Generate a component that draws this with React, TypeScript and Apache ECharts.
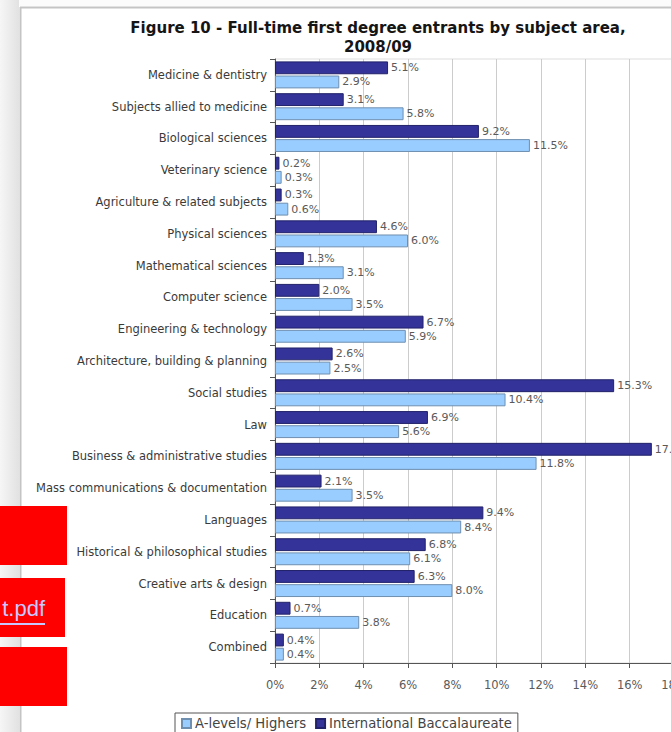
import React, { useEffect, useRef } from "react";
import * as echarts from "echarts";

const categories = [
  "Medicine & dentistry",
  "Subjects allied to medicine",
  "Biological sciences",
  "Veterinary science",
  "Agriculture & related subjects",
  "Physical sciences",
  "Mathematical sciences",
  "Computer science",
  "Engineering & technology",
  "Architecture, building & planning",
  "Social studies",
  "Law",
  "Business & administrative studies",
  "Mass communications & documentation",
  "Languages",
  "Historical & philosophical studies",
  "Creative arts & design",
  "Education",
  "Combined",
];

const ibValues = [5.1, 3.1, 9.2, 0.2, 0.3, 4.6, 1.3, 2.0, 6.7, 2.6, 15.3, 6.9, 17.0, 2.1, 9.4, 6.8, 6.3, 0.7, 0.4];
const aLevelValues = [2.9, 5.8, 11.5, 0.3, 0.6, 6.0, 3.1, 3.5, 5.9, 2.5, 10.4, 5.6, 11.8, 3.5, 8.4, 6.1, 8.0, 3.8, 0.4];

const seriesNames = ["A-levels/ Highers", "International Baccalaureate"];
const xTicks = { min: 0, max: 18, interval: 2 };
const titleText = "Figure 10 - Full-time first degree entrants by subject area,\n2008/09";

const FONT = "DejaVu Sans";

export default function App() {
  const ref = useRef<HTMLDivElement>(null);
  useEffect(() => {
    if (!ref.current) return;
    const chart = echarts.init(ref.current, undefined, { renderer: "svg" });
    const labelCfg = {
      show: true,
      position: "right" as const,
      distance: 3,
      color: "#5a5a5a",
      fontFamily: FONT,
      fontSize: 11,
      formatter: (p: any) => Number(p.value).toFixed(1) + "%",
    };
    chart.setOption({
      animation: false,
      backgroundColor: "#ffffff",
      title: {
        text: titleText,
        left: 373,
        top: 13.5,
        textAlign: "center",
        textStyle: {
          fontFamily: FONT,
          fontSize: 15,
          fontWeight: "bold",
          lineHeight: 19,
          color: "#151515",
        },
      },
      grid: {
        left: 275,
        top: 59,
        right: -3,
        bottom: 69,
        outerBoundsMode: "none",
        containLabel: false,
        show: true,
        borderColor: "#dddddd",
        borderWidth: 1,
        backgroundColor: "transparent",
      },
      legend: {
        data: seriesNames,
        left: 175,
        top: 713,
        padding: [4, 6, 4, 6],
        itemWidth: 9,
        itemHeight: 9,
        itemGap: 9,
        icon: "rect",
        borderColor: "#555",
        borderWidth: 1,
        backgroundColor: "#fff",
        textStyle: { fontFamily: FONT, fontSize: 13.2, color: "#444", padding: [0, 0, 0, -1] },
      },
      xAxis: {
        type: "value",
        min: xTicks.min,
        max: xTicks.max,
        interval: xTicks.interval,
        axisLine: { show: true, lineStyle: { color: "#555", width: 1 } },
        axisTick: { show: true, length: 5, lineStyle: { color: "#555" } },
        axisLabel: {
          formatter: "{value}%",
          fontFamily: FONT,
          fontSize: 11.5,
          color: "#5a5a5a",
          margin: 16,
        },
        splitLine: { show: true, lineStyle: { color: "#cccccc", width: 1 } },
      },
      yAxis: {
        type: "category",
        inverse: true,
        data: categories,
        axisLine: { show: true, lineStyle: { color: "#555", width: 1 } },
        axisTick: { show: true, length: 5, alignWithLabel: false, lineStyle: { color: "#555" } },
        axisLabel: {
          fontFamily: FONT,
          fontSize: 11.5,
          color: "#3a3a3a",
          margin: 8,
        },
      },
      series: [
        {
          name: seriesNames[1],
          type: "bar",
          data: ibValues,
          barGap: "10%",
          barCategoryGap: "15%",
          itemStyle: { color: "#333399", borderColor: "#22226a", borderWidth: 1 },
          label: labelCfg,
        },
        {
          name: seriesNames[0],
          type: "bar",
          data: aLevelValues,
          barGap: "10%",
          barCategoryGap: "15%",
          itemStyle: { color: "#99ccff", borderColor: "#6f8fb0", borderWidth: 1 },
          label: labelCfg,
        },
      ],
      graphic: [
        {
          type: "rect",
          silent: true,
          z: -10,
          shape: { x: 0, y: 0, width: 19, height: 732 },
          style: {
            fill: new echarts.graphic.LinearGradient(0, 0, 1, 0, [
              { offset: 0, color: "#f6f6f6" },
              { offset: 1, color: "#e2e2e2" },
            ]),
          },
        },
        {
          type: "rect",
          silent: true,
          z: -10,
          shape: { x: 19, y: 0, width: 652, height: 6 },
          style: { fill: "#fbfbfb" },
        },
        {
          type: "line",
          silent: true,
          shape: { x1: 20.5, y1: 7, x2: 20.5, y2: 732 },
          style: { stroke: "#c4c4c4", lineWidth: 2 },
        },
        {
          type: "line",
          silent: true,
          shape: { x1: 20, y1: 7.5, x2: 671, y2: 7.5 },
          style: { stroke: "#c4c4c4", lineWidth: 2 },
        },
        {
          type: "rect",
          silent: true,
          z: 100,
          shape: { x: 0, y: 506, width: 67, height: 59 },
          style: { fill: "#ff0000" },
        },
        {
          type: "rect",
          silent: true,
          z: 100,
          shape: { x: 0, y: 578, width: 65, height: 59 },
          style: { fill: "#ff0000" },
        },
        {
          type: "rect",
          silent: true,
          z: 100,
          shape: { x: 0, y: 647, width: 67, height: 59 },
          style: { fill: "#ff0000" },
        },
        {
          type: "text",
          silent: true,
          z: 101,
          style: {
            text: "t.pdf",
            x: 45,
            y: 619,
            textAlign: "right",
            textVerticalAlign: "bottom",
            fontFamily: "Liberation Sans",
            fontSize: 22,
            fill: "#c8c8ff",
          },
        },
        {
          type: "line",
          silent: true,
          z: 101,
          shape: { x1: 0, y1: 624, x2: 45, y2: 624 },
          style: { stroke: "#c8c8ff", lineWidth: 2 },
        },
      ],
    });
    return () => chart.dispose();
  }, []);
  return (
    <div
      ref={ref}
      style={{ position: "fixed", left: 0, top: 0, width: 671, height: 732 }}
    />
  );
}
